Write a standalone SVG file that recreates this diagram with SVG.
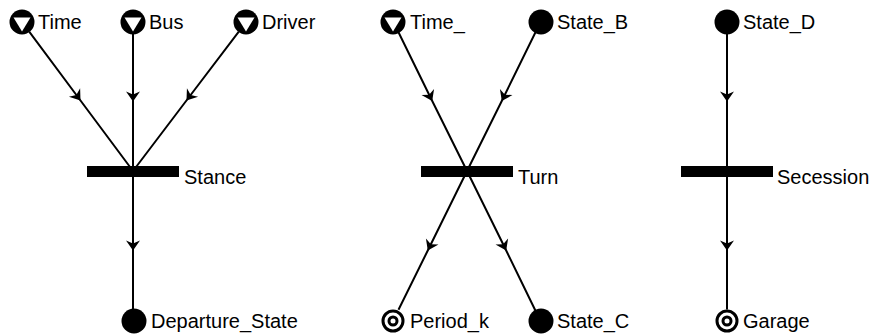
<svg xmlns="http://www.w3.org/2000/svg" width="873" height="335" viewBox="0 0 873 335">
  <style>
    .edge { fill: none; stroke: #000; stroke-width: 2; marker-mid: url(#arrow); }
    .label { font-family: "Liberation Sans", Arial, sans-serif; font-size: 20px; fill: #000; }
    .state { fill: #000; }
    .bar { fill: #000; }
    .ring { fill: #fff; stroke: #000; stroke-width: 3; }
  </style>
  <defs>
    <marker id="arrow" viewBox="-8 -8 16 16" refX="0" refY="0" markerWidth="16" markerHeight="16" markerUnits="userSpaceOnUse" orient="auto">
      <path d="M5,0 L-5,-7 L-2,0 L-5,7 Z" fill="#000"/>
    </marker>
    <!-- source place: black disc with a white downward triangle -->
    <g id="source">
      <circle r="12.5" fill="#000"/>
      <path d="M-8.5,-4.5 L8.5,-4.5 L0,9.5 Z" fill="#fff"/>
    </g>
    <!-- sink place: double ring -->
    <g id="sink">
      <circle r="10" class="ring"/>
      <circle r="4" class="ring"/>
    </g>
  </defs>

  <rect width="873" height="335" fill="#fff"/>

  <g id="connectors">
    <!-- Stance -->
    <polyline class="edge" points="29.2,31.6 77.5,96.5 133,171"/>
    <polyline class="edge" points="133,34 133,96.5 133,171"/>
    <polyline class="edge" points="238.8,31.6 189.5,96.5 133,171"/>
    <polyline class="edge" points="133,171 133,245.5 133,309"/>
    <!-- Turn -->
    <polyline class="edge" points="398.5,32.2 430,96.5 467,171"/>
    <polyline class="edge" points="535.5,32.2 504,96.5 467,171"/>
    <polyline class="edge" points="467,171 430,246 398.5,309.8"/>
    <polyline class="edge" points="467,171 504,246 535.5,310.8"/>
    <!-- Secession -->
    <polyline class="edge" points="727,34 727,96.5 727,171"/>
    <polyline class="edge" points="727,171 727,245.5 727,309.5"/>
  </g>

  <g id="Stance">
    <rect class="bar" x="87" y="166" width="92" height="11"/>
    <text class="label" x="184" y="184">Stance</text>
  </g>
  <g id="Turn">
    <rect class="bar" x="421" y="166" width="92" height="11"/>
    <text class="label" x="518" y="184">Turn</text>
  </g>
  <g id="Secession">
    <rect class="bar" x="681" y="166" width="92" height="11"/>
    <text class="label" x="777" y="184">Secession</text>
  </g>

  <g id="Time">
    <use href="#source" x="22" y="22"/>
    <text class="label" x="38" y="29">Time</text>
  </g>
  <g id="Bus">
    <use href="#source" x="133" y="22"/>
    <text class="label" x="149" y="29">Bus</text>
  </g>
  <g id="Driver">
    <use href="#source" x="246" y="22"/>
    <text class="label" x="262" y="29">Driver</text>
  </g>
  <g id="Departure_State">
    <circle class="state" cx="134" cy="321" r="12.5"/>
    <text class="label" x="151" y="328">Departure_State</text>
  </g>

  <g id="Time_">
    <use href="#source" x="393" y="22"/>
    <text class="label" x="410" y="29">Time_</text>
  </g>
  <g id="State_B">
    <circle class="state" cx="541" cy="22" r="12.5"/>
    <text class="label" x="557" y="29">State_B</text>
  </g>
  <g id="Period_k">
    <use href="#sink" x="393" y="321"/>
    <text class="label" x="410" y="328">Period_k</text>
  </g>
  <g id="State_C">
    <circle class="state" cx="541" cy="321" r="12.5"/>
    <text class="label" x="557" y="328">State_C</text>
  </g>

  <g id="State_D">
    <circle class="state" cx="727" cy="22" r="12.5"/>
    <text class="label" x="743" y="29">State_D</text>
  </g>
  <g id="Garage">
    <use href="#sink" x="727" y="321"/>
    <text class="label" x="743" y="328">Garage</text>
  </g>
</svg>
